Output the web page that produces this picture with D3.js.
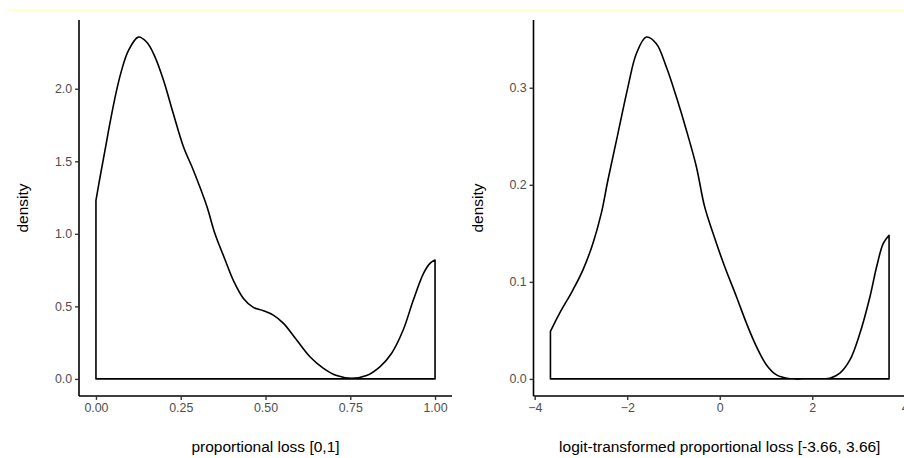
<!DOCTYPE html>
<html><head><meta charset="utf-8">
<script src="https://cdn.jsdelivr.net/npm/d3@7"></script>
<style>
html,body{margin:0;padding:0;background:#fff;}
svg{display:block;font-family:"Liberation Sans",Arial,sans-serif;}
</style></head><body>
<svg id="chart" width="904" height="458"></svg>
<script>
// Left panel: density of proportional loss
const propX = [0, 0.012, 0.027, 0.041, 0.061, 0.076, 0.095, 0.125, 0.150, 0.174, 0.199, 0.228, 0.258, 0.287, 0.327, 0.351, 0.381, 0.405, 0.435, 0.464, 0.494, 0.523, 0.553, 0.592, 0.631, 0.671, 0.710, 0.754, 0.798, 0.838, 0.872, 0.906, 0.936, 0.966, 0.985, 1.0];
const propY = [1.23, 1.39, 1.58, 1.76, 1.99, 2.13, 2.26, 2.356, 2.32, 2.22, 2.06, 1.83, 1.60, 1.44, 1.19, 1.00, 0.82, 0.68, 0.555, 0.493, 0.470, 0.440, 0.383, 0.268, 0.153, 0.073, 0.023, 0.004, 0.023, 0.085, 0.177, 0.337, 0.544, 0.727, 0.796, 0.819];
// Right panel: density of logit-transformed proportional loss
const logitX = [-3.66, -3.463, -3.175, -2.959, -2.742, -2.561, -2.418, -2.201, -1.985, -1.803, -1.587, -1.370, -1.154, -0.937, -0.721, -0.504, -0.33, -0.145, 0.108, 0.361, 0.578, 0.794, 1.010, 1.227, 1.515, 1.9, 2.381, 2.597, 2.814, 3.030, 3.247, 3.391, 3.535, 3.66];
const logitY = [0.049, 0.0676, 0.0916, 0.1121, 0.1396, 0.1705, 0.2047, 0.2528, 0.3007, 0.3351, 0.3522, 0.3454, 0.3213, 0.2904, 0.2562, 0.2184, 0.178, 0.150, 0.1155, 0.0847, 0.0573, 0.0332, 0.0144, 0.0041, 0.0002, 0.0, 0.0007, 0.0059, 0.0195, 0.047, 0.0847, 0.1155, 0.1396, 0.148];

const leftXTicks = [0, 0.25, 0.5, 0.75, 1.0];
const leftYTicks = [0, 0.5, 1.0, 1.5, 2.0];
const rightXTicks = [-4, -2, 0, 2, 4];
const rightYTicks = [0, 0.1, 0.2, 0.3];
const leftTitle = "proportional loss [0,1]";
const rightTitle = "logit-transformed proportional loss [-3.66, 3.66]";
const yTitle = "density";

const svg = d3.select("#chart");

// faint highlight line at top
svg.append("line").attr("x1", 7).attr("x2", 904).attr("y1", 10.5).attr("y2", 10.5)
  .attr("stroke", "#ffffc8").attr("stroke-width", 2);

function panel(cfg) {
  const xs = cfg.xs, ys = cfg.ys;
  const maxY = d3.max(ys), rngX = d3.extent(xs);
  const padX = (rngX[1] - rngX[0]) * 0.05;
  const x = d3.scaleLinear().domain([rngX[0] - padX, rngX[1] + padX]).range([cfg.left, cfg.right]);
  const y = d3.scaleLinear().domain([-maxY * 0.05, maxY * 1.05]).range([396, 20]);
  const g = svg.append("g");

  const data = xs.map((v, i) => [v, ys[i]]);
  const area = d3.area().x(d => x(d[0])).y0(y(0)).y1(d => y(d[1])).curve(d3.curveCatmullRom.alpha(0.5));
  g.append("path").attr("d", area(data)).attr("fill", "none").attr("stroke", "#000")
    .attr("stroke-width", 1.6).attr("stroke-linejoin", "round");

  const tickSize = 3.9;
  const xAxis = g.append("g").attr("transform", `translate(0,396)`)
    .call(d3.axisBottom(x).tickValues(cfg.xTicks).tickFormat(cfg.xFmt).tickSize(tickSize).tickSizeOuter(0).tickPadding(3));
  const yAxis = g.append("g").attr("transform", `translate(${cfg.left},0)`)
    .call(d3.axisLeft(y).tickValues(cfg.yTicks).tickFormat(d3.format(".1f")).tickSize(tickSize).tickSizeOuter(0).tickPadding(3));
  [xAxis, yAxis].forEach(a => {
    a.select(".domain").attr("stroke", "#000").attr("stroke-width", 1.6);
    a.selectAll(".tick line").attr("stroke", "#333").attr("stroke-width", 1.4);
    a.selectAll(".tick text").attr("fill", "#4d4d4d").attr("font-size", 12.4)
      .attr("font-family", "Liberation Sans, Arial, sans-serif");
  });
  xAxis.select(".domain").attr("d", `M${cfg.left},0H${cfg.right}`);
  yAxis.select(".domain").attr("d", `M0,396V20`);

  g.append("text").attr("x", (cfg.left + cfg.right) / 2).attr("y", 451.5)
    .attr("text-anchor", "middle").attr("font-size", 15.5).attr("fill", "#000").text(cfg.title);
  g.append("text").attr("transform", `translate(${cfg.left - 51},208) rotate(-90)`)
    .attr("text-anchor", "middle").attr("font-size", 15.5).attr("fill", "#000").text(yTitle);
}

panel({xs: propX, ys: propY, left: 79, right: 452, xTicks: leftXTicks, yTicks: leftYTicks,
  xFmt: d3.format(".2f"), title: leftTitle});
panel({xs: logitX, ys: logitY, left: 533.5, right: 906, xTicks: rightXTicks, yTicks: rightYTicks,
  xFmt: d3.format("d"), title: rightTitle});
</script>
</body></html>
